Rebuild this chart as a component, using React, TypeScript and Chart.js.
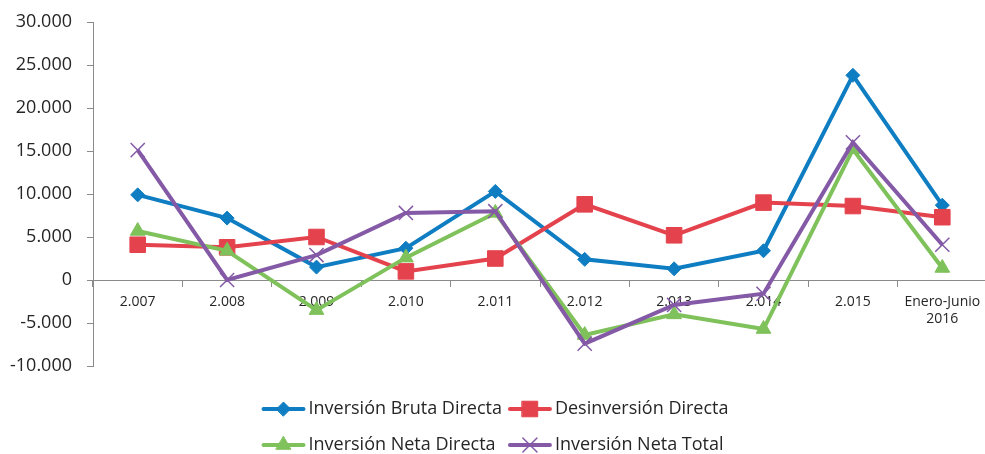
import React, { useEffect, useRef } from "react";
import { Chart, registerables } from "chart.js";
import { drawPoint } from "chart.js/helpers";

Chart.register(...registerables);

const categories: (string | string[])[] = [
  "2.007", "2.008", "2.009", "2.010", "2.011", "2.012", "2.013", "2.014", "2.015", ["Enero-Junio", "2016"],
];
const inversionBruta = [9900, 7200, 1500, 3700, 10300, 2400, 1300, 3400, 23800, 8700];
const desinversion = [4100, 3800, 5000, 1000, 2500, 8800, 5200, 9000, 8600, 7300];
const inversionNeta = [5700, 3400, -3500, 2600, 7800, -6400, -4000, -5700, 15200, 1400];
const inversionNetaTotal = [15100, 0, 2900, 7800, 8000, -7400, -2900, -1600, 16000, 4100];
const seriesNames = ["Inversión Bruta Directa", "Desinversión Directa", "Inversión Neta Directa", "Inversión Neta Total"];
const yMin = -10000;
const yMax = 30000;
const yStep = 5000;

const COLORS = ["#0f7dc2", "#e4434d", "#7fc15a", "#8459a6"];
const FONT = "'Open Sans', sans-serif";
const TEXT = "#262626";
const AXIS = "#8a8a8a";
const LEGEND_CENTER = 495;

const fmt = (v: number) => {
  const s = String(Math.abs(v)).replace(/\B(?=(\d{3})+(?!\d))/g, ".");
  return (v < 0 ? "-" : "") + s;
};

const legendPlugin = {
  id: "gridLegend",
  afterDraw(chart: any) {
    const ctx = chart.ctx;
    const datasets = chart.data.datasets;
    ctx.save();
    ctx.font = `18px ${FONT}`;
    ctx.textBaseline = "middle";
    ctx.fillStyle = TEXT;
    const lineLen = 44;
    const gap = 3;
    const colSep = 6;
    const w0 = Math.max(ctx.measureText(datasets[0].label).width, ctx.measureText(datasets[2].label).width);
    const w1 = Math.max(ctx.measureText(datasets[1].label).width, ctx.measureText(datasets[3].label).width);
    const total = lineLen + gap + w0 + colSep + lineLen + gap + w1;
    const startX = LEGEND_CENTER - total / 2;
    const colX = [startX, startX + lineLen + gap + w0 + colSep];
    datasets.forEach((ds: any, i: number) => {
      const col = i % 2;
      const row = Math.floor(i / 2);
      const x = colX[col];
      const y = 409 + row * 36;
      ctx.strokeStyle = ds.borderColor;
      ctx.lineWidth = 4;
      ctx.lineCap = "round";
      ctx.beginPath();
      ctx.moveTo(x + 2, y);
      ctx.lineTo(x + lineLen - 2, y);
      ctx.stroke();
      ctx.fillStyle = ds.pointBackgroundColor;
      ctx.strokeStyle = ds.pointBorderColor;
      ctx.lineWidth = ds.pointBorderWidth;
      drawPoint(ctx, { pointStyle: ds.pointStyle, radius: ds.pointRadius, rotation: 0, borderWidth: ds.pointBorderWidth }, x + lineLen / 2, y);
      ctx.fillStyle = TEXT;
      ctx.fillText(ds.label, x + lineLen + gap, y);
    });
    ctx.restore();
  },
};

export default function App() {
  const ref = useRef<HTMLCanvasElement>(null);
  useEffect(() => {
    if (!ref.current) return;
    const styles = [
      { pointStyle: "rectRot", radius: 7, bw: 1 },
      { pointStyle: "rect", radius: 11, bw: 1 },
      { pointStyle: "triangle", radius: 8.5, bw: 1 },
      { pointStyle: "crossRot", radius: 10, bw: 1.5 },
    ];
    const values = [inversionBruta, desinversion, inversionNeta, inversionNetaTotal];
    const chart = new Chart(ref.current, {
      type: "line",
      data: {
        labels: categories,
        datasets: values.map((d, i) => ({
          label: seriesNames[i],
          data: d,
          borderColor: COLORS[i],
          backgroundColor: COLORS[i],
          pointBackgroundColor: COLORS[i],
          pointBorderColor: COLORS[i],
          borderWidth: 4,
          pointStyle: styles[i].pointStyle,
          pointRadius: styles[i].radius,
          pointHoverRadius: styles[i].radius,
          pointBorderWidth: styles[i].bw,
          tension: 0,
          fill: false,
          order: 4 - i,
        })) as any,
      },
      options: {
        responsive: false,
        animation: false,
        layout: { padding: { top: 22, right: 3, bottom: 88, left: 0 } },
        plugins: { legend: { display: false }, tooltip: { enabled: false } },
        scales: {
          x: {
            type: "category",
            position: { y: 0 } as any,
            offset: true,
            grid: { offset: true, drawOnChartArea: false, drawTicks: true, tickLength: 6, color: AXIS },
            border: { display: true, color: AXIS, width: 1 },
            ticks: { font: { family: FONT, size: 14 }, color: TEXT, padding: 8, maxRotation: 0, autoSkip: false },
          },
          y: {
            min: yMin,
            max: yMax,
            grid: { drawOnChartArea: false, drawTicks: true, tickLength: 6, color: AXIS },
            border: { display: true, color: AXIS, width: 1 },
            ticks: {
              stepSize: yStep,
              font: { family: FONT, size: 18 },
              color: TEXT,
              padding: 15,
              callback: (v: any) => fmt(Number(v)),
            },
            afterFit: (s: any) => {
              s.width = 93;
              s.paddingTop = 0;
              s.paddingBottom = 0;
            },
          },
        },
      },
      plugins: [legendPlugin],
    });
    return () => chart.destroy();
  }, []);
  return (
    <div style={{ position: "fixed", left: 0, top: 0, width: 985, height: 454, overflow: "hidden", background: "#fff" }}>
      <canvas ref={ref} width={999} height={454} style={{ width: 999, height: 454, display: "block" }} />
    </div>
  );
}
